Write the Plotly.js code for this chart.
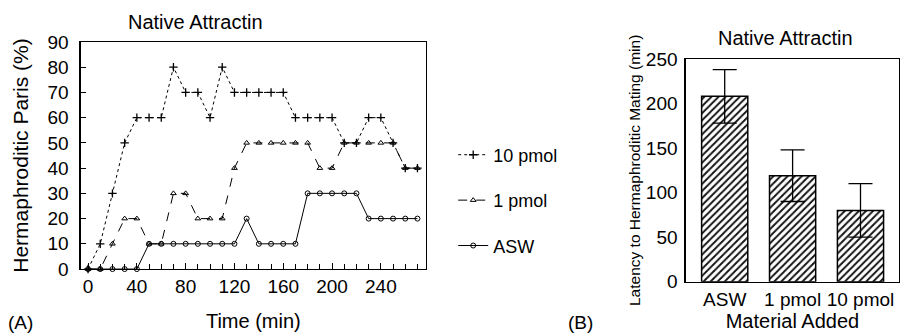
<!DOCTYPE html>
<html><head><meta charset="utf-8">
<script src="https://cdn.plot.ly/plotly-3.0.1.min.js"></script>
<style>html,body{margin:0;padding:0;background:#fff}#chart{width:901px;height:333px}</style>
</head><body><div id="chart"></div>
<script>
// Panel A data
const time = [0,10,20,30,40,50,60,70,80,90,100,110,120,130,140,150,160,170,180,190,200,210,220,230,240,250,260,270];
const pmol10 = [0,10,30,50,60,60,60,80,70,70,60,80,70,70,70,70,70,60,60,60,60,50,50,60,60,50,40,40];
const pmol1  = [0,0,10,20,20,10,10,30,30,20,20,20,40,50,50,50,50,50,50,40,40,50,50,50,50,50,40,40];
const asw    = [0,0,0,0,0,10,10,10,10,10,10,10,10,20,10,10,10,10,30,30,30,30,30,20,20,20,20,20];
// Panel B data
const materials = ["ASW","1 pmol","10 pmol"];
const latency = [208,119,80];
const latencyErr = [30,29,30];

const F = "Liberation Sans, Arial, sans-serif";
const traces = [
  {x:time,y:pmol10,name:"10 pmol",type:"scatter",mode:"lines+markers",cliponaxis:false,legendgroup:"a",
   line:{color:"#000",width:1,dash:"dot"},marker:{symbol:"cross-thin",size:6,color:"#000",line:{color:"#000",width:1.3}},xaxis:"x",yaxis:"y"},
  {x:time,y:pmol1,name:"1 pmol",type:"scatter",mode:"lines+markers",cliponaxis:false,legendgroup:"b",
   line:{color:"#000",width:1,dash:"dash"},marker:{symbol:"triangle-up-open",size:5,color:"#000",line:{color:"#000",width:1}},xaxis:"x",yaxis:"y"},
  {x:time,y:asw,name:"ASW",type:"scatter",mode:"lines+markers",cliponaxis:false,legendgroup:"c",
   line:{color:"#000",width:1,dash:"solid"},marker:{symbol:"circle-open",size:5,color:"#000",line:{color:"#000",width:1}},xaxis:"x",yaxis:"y"},
  {x:materials,y:latency,type:"bar",showlegend:false,xaxis:"x2",yaxis:"y2",width:0.68,
   marker:{color:"#fff",line:{color:"#000",width:1.5},pattern:{shape:"/",size:5,solidity:0.38,fgcolor:"#111",bgcolor:"#fff"}},
   error_y:{type:"data",array:latencyErr,visible:true,color:"#000",thickness:1.3,width:12}}
];
const layout = {
  width:901,height:333,margin:{l:0,r:0,t:0,b:0},paper_bgcolor:"#fff",plot_bgcolor:"#fff",
  font:{family:F,color:"#000",size:19},
  showlegend:true,
  legend:{x:0.503,y:0.59,xanchor:"left",yanchor:"top",font:{family:F,size:18},tracegroupgap:19,bgcolor:"rgba(0,0,0,0)"},
  xaxis:{domain:[0.0896,0.4728],range:[-6,277],showline:true,linecolor:"#000",linewidth:1.3,mirror:true,
    tickvals:[0,40,80,120,160,200,240],ticks:"inside",ticklen:6,tickcolor:"#000",showgrid:false,zeroline:false,
    minor:{dtick:10,ticks:"inside",ticklen:5,tickcolor:"#000",showgrid:false},
    tickfont:{size:19},title:{text:"Time (min)",font:{size:20},standoff:17},anchor:"y"},
  yaxis:{domain:[0.192,0.874],range:[0,90],dtick:10,showline:true,linecolor:"#000",linewidth:1.3,mirror:true,
    ticks:"inside",ticklen:5,tickcolor:"#000",showgrid:false,zeroline:false,ticklabelstandoff:7,
    tickfont:{size:19},title:{text:"Hermaphroditic Paris (%)",font:{size:21},standoff:13},anchor:"x"},
  xaxis2:{domain:[0.761,0.998],range:[-0.575,2.57],showline:true,linecolor:"#000",linewidth:1.3,mirror:true,
    ticks:"",showgrid:false,zeroline:false,tickfont:{size:19},title:{text:"Material Added",font:{size:20},standoff:3},anchor:"y2"},
  yaxis2:{domain:[0.154,0.823],range:[0,250],dtick:50,showline:true,linecolor:"#000",linewidth:1.3,mirror:true,
    ticks:"",showgrid:false,zeroline:false,tickfont:{size:19},ticklabelstandoff:3,
    title:{text:"Latency to Hermaphroditic Mating (min)",font:{size:15.5},standoff:1},anchor:"x2"},
  annotations:[
    {text:"Native Attractin",x:195,y:22,showarrow:false,font:{size:20}},
    {text:"Native Attractin",x:785,y:38,showarrow:false,font:{size:20}},
    {text:"(A)",x:20,y:322,showarrow:false,font:{size:19}},
    {text:"(B)",x:580,y:322,showarrow:false,font:{size:19}}
  ]
};
// convert pixel positions of annotations to paper coords
layout.annotations.forEach(a=>{a.xref="paper";a.yref="paper";a.x=a.x/901;a.y=1-a.y/333;a.xanchor="center";a.yanchor="middle";});
Plotly.newPlot("chart",traces,layout,{displayModeBar:false,staticPlot:true});
</script></body></html>
